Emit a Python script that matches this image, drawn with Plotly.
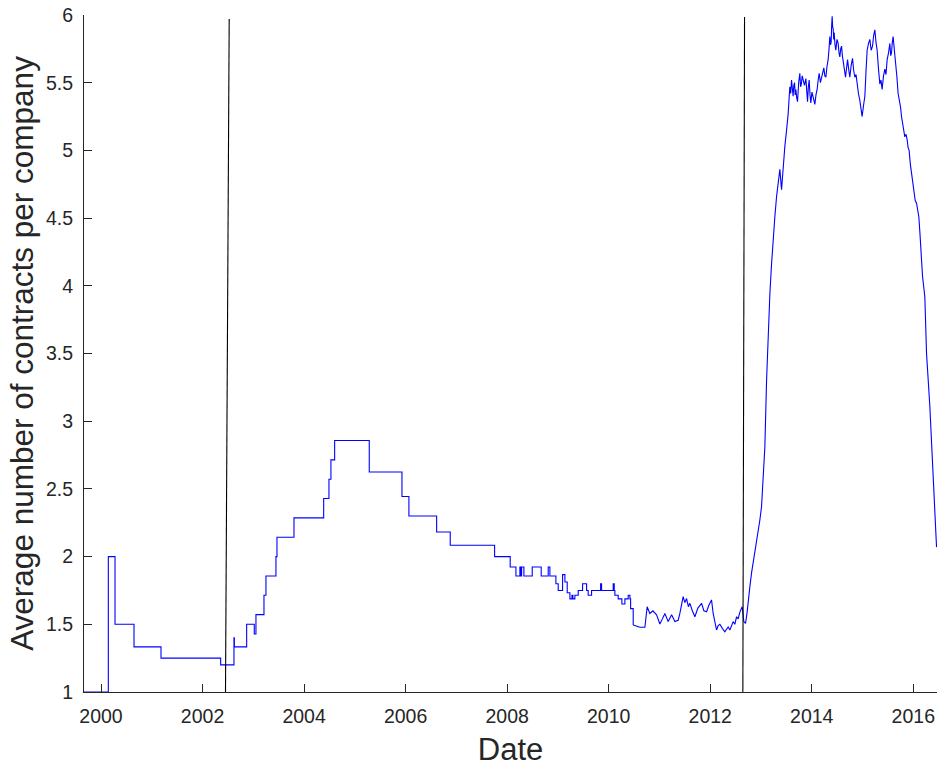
import plotly.graph_objects as go

# ---- Step-wise part of the series: (decimal year, average contracts per company) ----
step_points = [
    (1999.665, 1.0), (2000.144, 2.0), (2000.276, 1.5), (2000.650, 1.3333),
    (2001.182, 1.25), (2002.357, 1.2), (2002.619, 1.4), (2002.627, 1.3333),
    (2002.869, 1.5), (2003.019, 1.4286), (2003.052, 1.5714), (2003.210, 1.7143),
    (2003.249, 1.8571), (2003.446, 2.0), (2003.466, 2.1429), (2003.801, 2.2857),
    (2004.386, 2.4286), (2004.490, 2.5714), (2004.529, 2.7143), (2004.602, 2.8571),
    (2005.284, 2.625), (2005.928, 2.4444), (2006.065, 2.3), (2006.611, 2.1818),
    (2006.879, 2.0833), (2007.753, 2.0), (2008.060, 1.9231), (2008.173, 1.8571),
    (2008.251, 1.9231), (2008.271, 1.8571), (2008.285, 1.9231), (2008.330, 1.8571),
    (2008.494, 1.9231), (2008.671, 1.8571), (2008.809, 1.9231), (2008.842, 1.8571),
    (2008.960, 1.80), (2009.006, 1.75), (2009.092, 1.8667), (2009.138, 1.8125),
    (2009.183, 1.7333), (2009.236, 1.6875), (2009.276, 1.7143), (2009.295, 1.6875),
    (2009.334, 1.7143), (2009.400, 1.75), (2009.486, 1.80), (2009.565, 1.75),
    (2009.596, 1.7143), (2009.663, 1.75), (2009.841, 1.80), (2009.860, 1.75),
    (2010.089, 1.80), (2010.109, 1.75), (2010.122, 1.7143), (2010.187, 1.6875),
    (2010.260, 1.65), (2010.319, 1.6875), (2010.384, 1.7143), (2010.418, 1.6875),
    (2010.432, 1.6154), (2010.483, 1.4952),
]

# ---- Daily (noisy) part of the series ----
daily_points = [
    (2010.483, 1.495), (2010.536, 1.49), (2010.614, 1.478), (2010.713, 1.478),
    (2010.758, 1.63), (2010.811, 1.58), (2010.871, 1.60), (2010.943, 1.57),
    (2011.008, 1.502), (2011.058, 1.54), (2011.107, 1.58), (2011.172, 1.52),
    (2011.239, 1.57), (2011.304, 1.52), (2011.369, 1.53), (2011.402, 1.58),
    (2011.467, 1.704), (2011.501, 1.66), (2011.534, 1.69), (2011.570, 1.63),
    (2011.599, 1.655), (2011.648, 1.60), (2011.698, 1.556), (2011.757, 1.62),
    (2011.830, 1.655), (2011.875, 1.60), (2011.928, 1.593), (2011.973, 1.64),
    (2012.026, 1.68), (2012.058, 1.58), (2012.092, 1.52), (2012.125, 1.458),
    (2012.156, 1.49), (2012.190, 1.50), (2012.239, 1.47), (2012.288, 1.445),
    (2012.353, 1.48), (2012.387, 1.458), (2012.452, 1.52), (2012.485, 1.50),
    (2012.519, 1.556), (2012.550, 1.54), (2012.584, 1.59), (2012.629, 1.63),
    (2012.662, 1.52), (2012.696, 1.507), (2012.727, 1.59), (2012.761, 1.73),
    (2012.781, 1.778), (2012.814, 1.88), (2012.846, 1.95), (2012.913, 2.12),
    (2012.945, 2.20), (2012.978, 2.27), (2013.011, 2.37), (2013.043, 2.566),
    (2013.076, 2.81), (2013.110, 3.30), (2013.141, 3.67), (2013.175, 3.94),
    (2013.208, 4.16), (2013.240, 4.35), (2013.273, 4.51), (2013.307, 4.66),
    (2013.338, 4.78), (2013.372, 4.86), (2013.405, 4.71), (2013.437, 4.88),
    (2013.470, 5.03), (2013.504, 5.15), (2013.535, 5.27), (2013.568, 5.47),
    (2013.585, 5.42), (2013.602, 5.52), (2013.617, 5.46), (2013.633, 5.40),
    (2013.647, 5.48), (2013.661, 5.50), (2013.674, 5.41), (2013.687, 5.45),
    (2013.703, 5.39), (2013.720, 5.36), (2013.742, 5.50), (2013.765, 5.57),
    (2013.780, 5.47), (2013.795, 5.49), (2013.812, 5.55), (2013.830, 5.52),
    (2013.857, 5.48), (2013.884, 5.53), (2013.900, 5.42), (2013.917, 5.36),
    (2013.933, 5.47), (2013.949, 5.52), (2013.966, 5.41), (2013.982, 5.35),
    (2014.004, 5.43), (2014.027, 5.40), (2014.044, 5.36), (2014.061, 5.34),
    (2014.083, 5.41), (2014.106, 5.45), (2014.126, 5.52), (2014.146, 5.57),
    (2014.170, 5.50), (2014.193, 5.54), (2014.215, 5.59), (2014.238, 5.61),
    (2014.258, 5.55), (2014.278, 5.54), (2014.300, 5.62), (2014.323, 5.67),
    (2014.340, 5.75), (2014.356, 5.84), (2014.370, 5.78), (2014.382, 5.80),
    (2014.392, 5.92), (2014.402, 5.99), (2014.412, 5.91), (2014.422, 5.90),
    (2014.432, 5.82), (2014.441, 5.87), (2014.458, 5.78), (2014.474, 5.74),
    (2014.497, 5.82), (2014.520, 5.79), (2014.537, 5.72), (2014.553, 5.69),
    (2014.570, 5.75), (2014.587, 5.77), (2014.603, 5.70), (2014.618, 5.64),
    (2014.642, 5.60), (2014.665, 5.54), (2014.685, 5.61), (2014.705, 5.67),
    (2014.727, 5.60), (2014.750, 5.54), (2014.777, 5.63), (2014.803, 5.68),
    (2014.826, 5.59), (2014.849, 5.54), (2014.872, 5.56), (2014.894, 5.49),
    (2014.920, 5.42), (2014.947, 5.37), (2014.970, 5.30), (2014.992, 5.25),
    (2015.019, 5.33), (2015.046, 5.40), (2015.068, 5.58), (2015.091, 5.74),
    (2015.118, 5.79), (2015.144, 5.82), (2015.170, 5.74), (2015.197, 5.77),
    (2015.220, 5.85), (2015.243, 5.89), (2015.265, 5.80), (2015.288, 5.74),
    (2015.315, 5.60), (2015.341, 5.49), (2015.364, 5.52), (2015.386, 5.45),
    (2015.413, 5.55), (2015.440, 5.60), (2015.462, 5.56), (2015.485, 5.67),
    (2015.512, 5.72), (2015.538, 5.79), (2015.555, 5.70), (2015.571, 5.72),
    (2015.587, 5.80), (2015.603, 5.84), (2015.627, 5.74), (2015.650, 5.67),
    (2015.676, 5.55), (2015.701, 5.42), (2015.725, 5.38), (2015.749, 5.32),
    (2015.768, 5.25), (2015.788, 5.20), (2015.810, 5.14), (2015.833, 5.10),
    (2015.856, 5.12), (2015.879, 5.08), (2015.898, 5.02), (2015.918, 5.00),
    (2015.941, 4.90), (2015.965, 4.83), (2015.988, 4.74), (2016.011, 4.68),
    (2016.038, 4.63), (2016.064, 4.61), (2016.086, 4.56), (2016.109, 4.51),
    (2016.129, 4.40), (2016.149, 4.29), (2016.165, 4.17), (2016.182, 4.07),
    (2016.227, 3.92), (2016.261, 3.50), (2016.326, 3.11), (2016.371, 2.74),
    (2016.424, 2.37), (2016.458, 2.07),
]

step_dates = [d for d, _ in step_points]
step_values = [v for _, v in step_points]
daily_dates = [d for d, _ in daily_points]
daily_values = [v for _, v in daily_points]

# ---- Vertical marker lines ----
marker1_x = [2002.452, 2002.525]
marker1_y = [1.0, 5.97]
marker2_x = [2012.643, 2012.676]
marker2_y = [1.0, 5.985]

y_ticks = [1, 1.5, 2, 2.5, 3, 3.5, 4, 4.5, 5, 5.5, 6]
y_tick_labels = ["1", "1.5", "2", "2.5", "3", "3.5", "4", "4.5", "5", "5.5", "6"]
x_ticks = [2000, 2002, 2004, 2006, 2008, 2010, 2012, 2014, 2016]
x_tick_labels = [str(t) for t in x_ticks]

BLUE = "#0000FF"
AX = "#262626"
FONT = "Liberation Sans, Arial, sans-serif"

fig = go.Figure()
fig.add_trace(go.Scatter(x=step_dates, y=step_values, mode="lines",
                         line=dict(color=BLUE, width=1.1, shape="hv"),
                         showlegend=False, hoverinfo="skip"))
fig.add_trace(go.Scatter(x=daily_dates, y=daily_values, mode="lines",
                         line=dict(color=BLUE, width=1.1),
                         showlegend=False, hoverinfo="skip"))
for mx, my in ((marker1_x, marker1_y), (marker2_x, marker2_y)):
    fig.add_trace(go.Scatter(x=mx, y=my, mode="lines",
                             line=dict(color="#000000", width=1.1),
                             showlegend=False, hoverinfo="skip"))

fig.update_layout(
    width=937, height=767,
    margin=dict(l=84, r=0, t=15, b=75, autoexpand=False),
    paper_bgcolor="white", plot_bgcolor="white",
    font=dict(family=FONT, color=AX),
    xaxis=dict(range=[1999.665, 2016.467], tickvals=x_ticks, ticktext=x_tick_labels,
               showgrid=False, zeroline=False, showline=True, linecolor=AX, linewidth=1,
               ticks="inside", ticklen=8, tickcolor=AX, tickwidth=1,
               tickfont=dict(size=19.5, family=FONT, color=AX),
               ticklabelstandoff=7,
               title=dict(text="Date", font=dict(size=31, family=FONT, color=AX), standoff=11)),
    yaxis=dict(range=[1, 6], tickvals=y_ticks, ticktext=y_tick_labels,
               showgrid=False, zeroline=False, showline=True, linecolor=AX, linewidth=1,
               ticks="inside", ticklen=8, tickcolor=AX, tickwidth=1,
               tickfont=dict(size=19.5, family=FONT, color=AX),
               ticklabelstandoff=6,
               title=dict(text="Average number of contracts per company",
                          font=dict(size=31.5, family=FONT, color=AX), standoff=2)),
)

fig.write_html("out.html", config={"displayModeBar": False},
               post_script="document.body.style.margin='0';document.body.style.overflow='hidden';")
